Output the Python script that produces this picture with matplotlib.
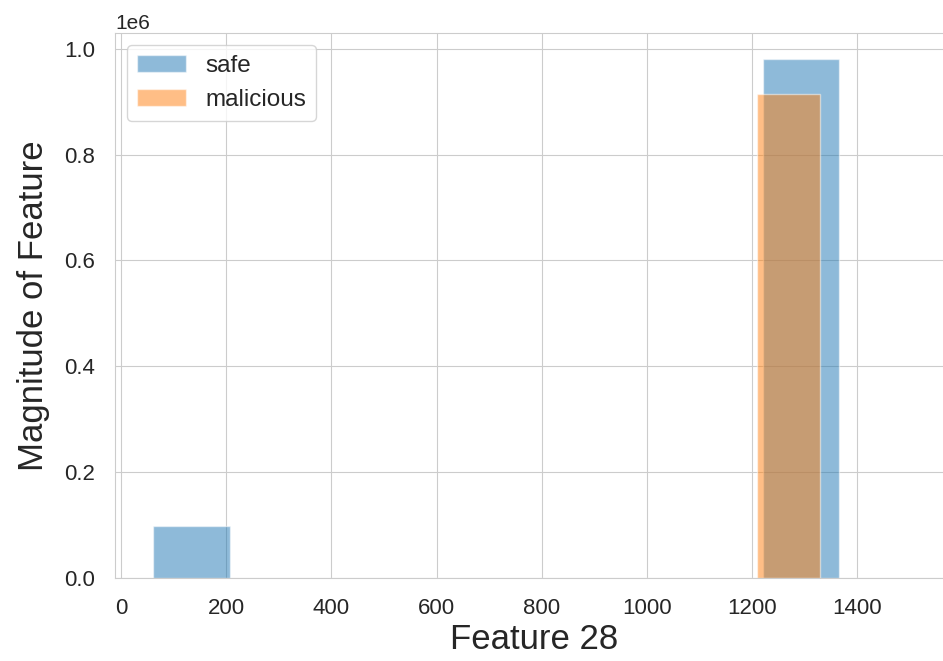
import matplotlib
matplotlib.use("Agg")
import matplotlib.pyplot as plt
import seaborn as sns

# histogram bins
safe_edges = [61, 206, 351, 496, 641, 786, 931, 1076, 1221, 1366, 1511]
safe_counts = [97000, 0, 0, 0, 0, 0, 0, 0, 981000, 0]
mal_edges = [1210, 1331]
mal_counts = [914000]

sns.set_style("whitegrid")
plt.rcParams['font.family'] = ['Liberation Sans', 'DejaVu Sans']

fig = plt.figure(figsize=(9.43, 6.61), dpi=100)
ax = fig.add_axes([0.122, 0.126, 0.889, 0.824])

ax.hist(safe_edges[:-1], bins=safe_edges, weights=safe_counts,
        alpha=0.5, color="#1f77b4", label="safe")
ax.hist(mal_edges[:-1], bins=mal_edges, weights=mal_counts,
        alpha=0.5, color="#ff7f0e", label="malicious")

ax.set_xlim(-12, 1584)
ax.set_xlabel("Feature 28", fontsize=25, labelpad=3)
ax.set_ylabel("Magnitude of Feature", fontsize=25, labelpad=10)
ax.tick_params(labelsize=16, pad=11)
ax.yaxis.get_offset_text().set_fontsize(15)
ax.legend(loc="upper left", fontsize=17.5)

plt.savefig("out.png", dpi=100)
